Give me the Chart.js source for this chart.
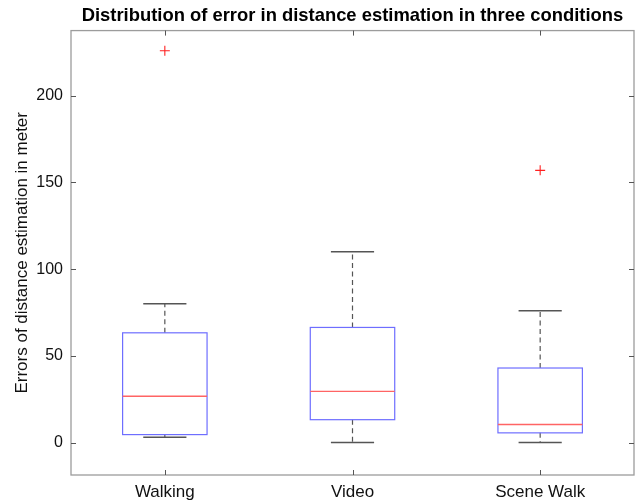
<!DOCTYPE html>
<html>
<head>
<meta charset="utf-8">
<script src="https://cdn.jsdelivr.net/npm/chart.js@4.4.0/dist/chart.umd.min.js"></script>
<style>
  html, body { margin: 0; padding: 0; background: #fff; overflow: hidden; }
</style>
</head>
<body>
<canvas id="boxchart" width="636" height="503"></canvas>
<script>
// values (meters)
const categories = ['Walking', 'Video', 'Scene Walk'];
const whiskerLow = [3, 0, 0];
const q1 = [4.6, 13.2, 5.6];
const median = [26.7, 29.5, 10.4];
const q3 = [63.3, 66.4, 43];
const whiskerHigh = [80, 110, 76];
const outliers = [[226], [], [157]];
const yTicks = [0, 50, 100, 150, 200];

const BOX_HALF = 0.225;
const CAP_HALF = 0.115;

// build the scatter points for outliers
const outlierPts = [];
outliers.forEach((list, i) => {
    list.forEach(v => outlierPts.push({ x: i + 1, y: v }));
});

const boxPlugin = {
    id: 'boxes',
    beforeDatasetsDraw(chart) {
        const ctx = chart.ctx;
        const xs = chart.scales.x, ys = chart.scales.y;
        ctx.save();
        for (let i = 0; i < categories.length; i++) {
            const c = i + 1;
            const xl = xs.getPixelForValue(c - BOX_HALF);
            const xr = xs.getPixelForValue(c + BOX_HALF);
            const xm = xs.getPixelForValue(c);
            const cl = xs.getPixelForValue(c - CAP_HALF);
            const cr = xs.getPixelForValue(c + CAP_HALF);
            const yq1 = ys.getPixelForValue(q1[i]);
            const yq3 = ys.getPixelForValue(q3[i]);
            const ymed = ys.getPixelForValue(median[i]);
            const ylo = ys.getPixelForValue(whiskerLow[i]);
            const yhi = ys.getPixelForValue(whiskerHigh[i]);

            // whiskers (dashed)
            ctx.strokeStyle = '#555';
            ctx.lineWidth = 1.2;
            ctx.setLineDash([5, 3.5]);
            ctx.beginPath();
            ctx.moveTo(xm, yq3); ctx.lineTo(xm, yhi);
            ctx.moveTo(xm, yq1); ctx.lineTo(xm, ylo);
            ctx.stroke();
            ctx.setLineDash([]);
            // caps
            ctx.lineWidth = 1.5;
            ctx.beginPath();
            ctx.moveTo(cl, yhi); ctx.lineTo(cr, yhi);
            ctx.moveTo(cl, ylo); ctx.lineTo(cr, ylo);
            ctx.stroke();

            // box
            ctx.strokeStyle = '#6e6eff';
            ctx.lineWidth = 1.2;
            ctx.strokeRect(xl, yq3, xr - xl, yq1 - yq3);

            // median
            ctx.strokeStyle = '#ff6464';
            ctx.lineWidth = 1.4;
            ctx.beginPath();
            ctx.moveTo(xl, ymed); ctx.lineTo(xr, ymed);
            ctx.stroke();
        }
        ctx.restore();
    },
    afterDraw(chart) {
        // matlab style frame with inward ticks
        const ctx = chart.ctx;
        const a = chart.chartArea;
        const xs = chart.scales.x, ys = chart.scales.y;
        ctx.save();
        ctx.strokeStyle = '#9c9c9c';
        ctx.lineWidth = 1.3;
        ctx.strokeRect(a.left, a.top, a.right - a.left, a.bottom - a.top);
        ctx.strokeStyle = '#555';
        ctx.lineWidth = 1;
        ctx.beginPath();
        for (let i = 0; i < categories.length; i++) {
            const px = Math.round(xs.getPixelForValue(i + 1)) + 0.5;
            ctx.moveTo(px, a.bottom); ctx.lineTo(px, a.bottom - 5);
            ctx.moveTo(px, a.top); ctx.lineTo(px, a.top + 5);
        }
        yTicks.forEach(v => {
            const py = Math.round(ys.getPixelForValue(v)) + 0.5;
            ctx.moveTo(a.left, py); ctx.lineTo(a.left + 5, py);
            ctx.moveTo(a.right, py); ctx.lineTo(a.right - 5, py);
        });
        ctx.stroke();
        ctx.restore();
    }
};

const ctx = document.getElementById('boxchart').getContext('2d');
const myChart = new Chart(ctx, {
    type: 'scatter',
    data: {
        datasets: [{
            label: 'Outliers',
            data: outlierPts,
            pointStyle: 'cross',
            pointRadius: 5,
            borderColor: '#ff2020',
            backgroundColor: '#ff2020',
            borderWidth: 1.1
        }]
    },
    options: {
        responsive: false,
        animation: false,
        layout: { autoPadding: false, padding: { right: 2 } },
        plugins: {
            legend: { display: false },
            tooltip: { enabled: false },
            title: {
                display: true,
                fullSize: false,
                text: 'Distribution of error in distance estimation in three conditions',
                color: '#000',
                font: { family: 'Liberation Sans, Arial, sans-serif', size: 18.4, weight: 'bold' },
                padding: { top: 5, bottom: 3.5 }
            }
        },
        scales: {
            x: {
                type: 'linear',
                min: 0.5,
                max: 3.5,
                grid: { display: false, drawTicks: false },
                border: { display: false },
                afterBuildTicks: s => { s.ticks = categories.map((c, i) => ({ value: i + 1 })); },
                afterFit: s => { s.height = 28; s.paddingLeft = 0; s.paddingRight = 0; },
                ticks: {
                    padding: 7,
                    color: '#111',
                    font: { family: 'Liberation Sans, Arial, sans-serif', size: 17 },
                    callback: v => categories[v - 1]
                }
            },
            y: {
                min: -18.7,
                max: 237.6,
                grid: { display: false, drawTicks: false },
                border: { display: false },
                afterBuildTicks: s => { s.ticks = yTicks.map(v => ({ value: v })); },
                afterFit: s => { s.width = 71; },
                ticks: {
                    padding: 8,
                    color: '#111',
                    font: { family: 'Liberation Sans, Arial, sans-serif', size: 16 }
                },
                title: {
                    display: true,
                    text: 'Errors of distance estimation in meter',
                    color: '#111',
                    font: { family: 'Liberation Sans, Arial, sans-serif', size: 17 },
                    padding: { top: 12, bottom: 0 }
                }
            }
        }
    },
    plugins: [boxPlugin]
});
</script>
</body>
</html>
